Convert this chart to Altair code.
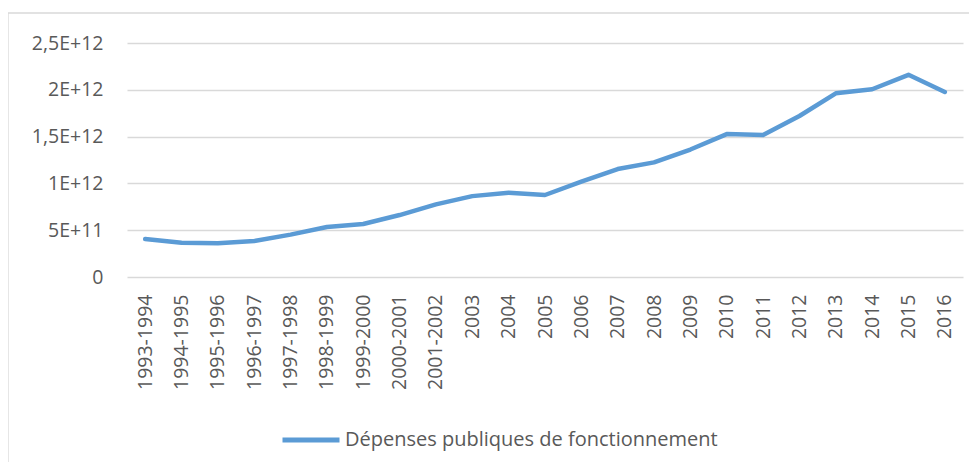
import altair as alt
import pandas as pd

categories = ["1993-1994", "1994-1995", "1995-1996", "1996-1997", "1997-1998",
              "1998-1999", "1999-2000", "2000-2001", "2001-2002", "2003", "2004",
              "2005", "2006", "2007", "2008", "2009", "2010", "2011", "2012",
              "2013", "2014", "2015", "2016"]
values = [0.406e12, 0.366e12, 0.360e12, 0.384e12, 0.453e12, 0.535e12, 0.566e12,
          0.662e12, 0.776e12, 0.864e12, 0.900e12, 0.876e12, 1.020e12, 1.153e12,
          1.225e12, 1.362e12, 1.527e12, 1.517e12, 1.720e12, 1.962e12, 2.006e12,
          2.160e12, 1.977e12]
series_name = "Dépenses publiques de fonctionnement"
y_ticks = [0, 5e11, 1e12, 1.5e12, 2e12, 2.5e12]
y_tick_labels = ["0", "5E+11", "1E+12", "1,5E+12", "2E+12", "2,5E+12"]

df = pd.DataFrame({"periode": categories, "valeur": values,
                   "serie": [series_name] * len(categories)})

label_expr = "''"
for v, lab in reversed(list(zip(y_ticks, y_tick_labels))):
    label_expr = f"datum.value == {int(v)} ? '{lab}' : ({label_expr})"

TEXT = "#595959"
GRID = "#d9d9d9"
BLUE = "#5b9bd5"
FONT = "Open Sans"

line = alt.Chart(df).mark_line(strokeWidth=4.5, strokeCap="round", strokeJoin="round").encode(
    x=alt.X("periode:N", sort=categories, title=None,
            axis=alt.Axis(labelAngle=-90, ticks=False, domain=False, grid=False,
                          labelPadding=17, labelFontSize=19.5, labelFont=FONT,
                          labelColor=TEXT)),
    y=alt.Y("valeur:Q", title=None,
            scale=alt.Scale(domain=[0, 2.5e12], nice=False),
            axis=alt.Axis(values=y_ticks, labelExpr=label_expr, ticks=False, domain=False,
                          grid=True, gridColor=GRID, gridWidth=1.3, labelPadding=24,
                          labelFontSize=19.5, labelFont=FONT, labelColor=TEXT)),
    color=alt.Color("serie:N", scale=alt.Scale(range=[BLUE]),
                    legend=alt.Legend(title=None, orient="none", legendX=153, legendY=366,
                                      symbolType="stroke", symbolSize=3249,
                                      symbolStrokeWidth=5, labelOffset=3, labelLimit=0,
                                      labelFontSize=20, labelFont=FONT,
                                      labelColor=TEXT)),
)

border = alt.Chart(pd.DataFrame({"b": [0]})).mark_rect(
    fill="transparent", stroke=GRID, strokeWidth=1.3
).encode(x=alt.value(-119), x2=alt.value(860), y=alt.value(-30), y2=alt.value(500))

chart = alt.layer(border, line).properties(
    width=836, height=234,
    padding={"left": 119, "top": 35, "right": 6, "bottom": 185},
    autosize=alt.AutoSizeParams(type="none"),
).configure_view(strokeWidth=0)

chart.save("out.html", embed_options={"renderer": "svg", "actions": False})
